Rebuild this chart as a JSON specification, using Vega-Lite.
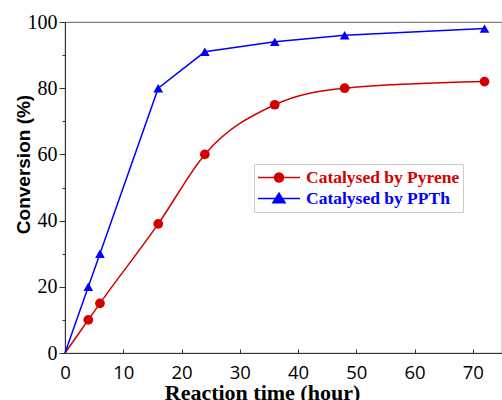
{
  "$schema": "https://vega.github.io/schema/vega-lite/v6.json",
  "width": 437,
  "height": 331,
  "autosize": {"type": "none"},
  "padding": {"left": 65, "top": 22, "right": 0, "bottom": 47},
  "background": "white",
  "config": {
    "view": {"stroke": "#808080", "strokeWidth": 1.2},
    "axis": {"grid": false, "domainColor": "#333333", "tickColor": "#333333", "labelColor": "black", "titleColor": "black"}
  },
  "data": {
    "values": [
      {"time": 0, "conv": 0, "series": "Catalysed by Pyrene"},
      {"time": 4, "conv": 10, "series": "Catalysed by Pyrene"},
      {"time": 6, "conv": 15, "series": "Catalysed by Pyrene"},
      {"time": 16, "conv": 39, "series": "Catalysed by Pyrene"},
      {"time": 24, "conv": 60, "series": "Catalysed by Pyrene"},
      {"time": 36, "conv": 75, "series": "Catalysed by Pyrene"},
      {"time": 48, "conv": 80, "series": "Catalysed by Pyrene"},
      {"time": 72, "conv": 82, "series": "Catalysed by Pyrene"},
      {"time": 0, "conv": 0, "series": "Catalysed by PPTh"},
      {"time": 4, "conv": 20, "series": "Catalysed by PPTh"},
      {"time": 6, "conv": 30, "series": "Catalysed by PPTh"},
      {"time": 16, "conv": 80, "series": "Catalysed by PPTh"},
      {"time": 24, "conv": 91, "series": "Catalysed by PPTh"},
      {"time": 36, "conv": 94, "series": "Catalysed by PPTh"},
      {"time": 48, "conv": 96, "series": "Catalysed by PPTh"},
      {"time": 72, "conv": 98, "series": "Catalysed by PPTh"}
    ]
  },
  "encoding": {
    "x": {
      "field": "time", "type": "quantitative",
      "scale": {"domain": [0, 75], "nice": false, "zero": true},
      "axis": {
        "title": "Reaction time (hour)",
        "titleFont": "Liberation Serif", "titleFontWeight": "bold", "titleFontSize": 22,
        "titlePadding": 1, "titleX": 197,
        "labelFont": "Open Sans", "labelFontSize": 18.5, "labelPadding": 14,
        "values": [0, 10, 20, 30, 40, 50, 60, 70],
        "tickSize": -4, "labelFlush": false
      }
    },
    "y": {
      "field": "conv", "type": "quantitative",
      "scale": {"domain": [0, 100], "nice": false},
      "axis": {
        "title": "Conversion (%)",
        "titleFont": "Liberation Sans", "titleFontWeight": "bold", "titleFontSize": 19,
        "titlePadding": -6, "titleY": 142,
        "labelFont": "Liberation Serif", "labelFontSize": 20, "labelPadding": 2,
        "values": [0, 10, 20, 30, 40, 50, 60, 70, 80, 90, 100],
        "labelExpr": "datum.value % 20 === 0 ? datum.label : ''",
        "tickSize": {"condition": {"test": "datum.value % 20 === 0", "value": 6}, "value": 3},
        "labelFlush": false
      }
    },
    "color": {
      "field": "series", "type": "nominal",
      "scale": {"domain": ["Catalysed by Pyrene", "Catalysed by PPTh"], "range": ["#d40000", "#0000ff"]},
      "legend": {
        "title": null,
        "orient": "none", "legendX": 189, "legendY": 142,
        "padding": 3, "rowPadding": 0, "clipHeight": 21,
        "fillColor": "white", "strokeColor": "#cccccc",
        "symbolSize": 1764, "symbolStrokeWidth": 1.5,
        "labelFont": "Liberation Serif", "labelFontWeight": "bold", "labelFontSize": 17.5,
        "labelOffset": 5,
        "encode": {
          "symbols": {"update": {
            "shape": {"signal": "datum.value === 'Catalysed by Pyrene' ? 'M-1,0H1M0.214,0A0.214,0.214,0,1,1,-0.214,0A0.214,0.214,0,1,1,0.214,0Z' : 'M-1,0H1M0,-0.26L0.29,0.2L-0.29,0.2Z'"},
            "strokeWidth": {"value": 1.5}
          }},
          "labels": {"update": {"fill": {"signal": "datum.value === 'Catalysed by Pyrene' ? '#d40000' : '#0000ff'"}}}
        }
      }
    }
  },
  "layer": [
    {
      "transform": [{"filter": "datum.series === 'Catalysed by Pyrene'"}],
      "mark": {"type": "line", "interpolate": "monotone", "strokeWidth": 1.5}
    },
    {
      "transform": [{"filter": "datum.series === 'Catalysed by PPTh'"}],
      "mark": {"type": "line", "strokeWidth": 1.5}
    },
    {
      "transform": [{"filter": "datum.time > 0 && datum.series === 'Catalysed by Pyrene'"}],
      "mark": {"type": "point", "shape": "circle", "filled": true, "opacity": 1, "size": 95}
    },
    {
      "transform": [{"filter": "datum.time > 0 && datum.series === 'Catalysed by PPTh'"}],
      "mark": {"type": "point", "shape": "triangle-up", "filled": true, "opacity": 1, "size": 95}
    }
  ]
}
